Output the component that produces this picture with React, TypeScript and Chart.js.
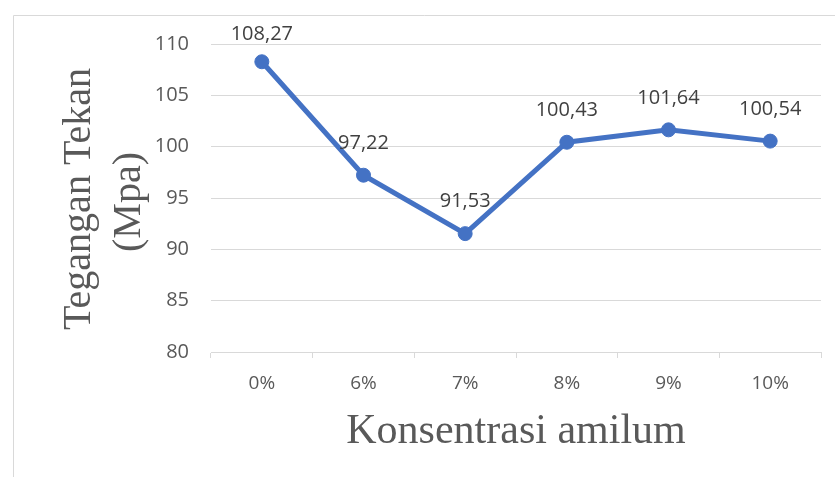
import React, { useEffect, useRef } from "react";
import { Chart, registerables } from "chart.js";

Chart.register(...registerables);

const categories = ["0%", "6%", "7%", "8%", "9%", "10%"];
const values = [108.27, 97.22, 91.53, 100.43, 101.64, 100.54];
const valueLabels = ["108,27", "97,22", "91,53", "100,43", "101,64", "100,54"];
const yMin = 80;
const yMax = 110;
const yStep = 5;
const xTitle = "Konsentrasi amilum";
const yTitleLines = ["Tegangan Tekan", "(Mpa)"];

const LINE_COLOR = "#4472C4";
const GRID = "#d9d9d9";
const TEXT = "#595959";
const SANS = "'Open Sans', 'Noto Sans', sans-serif";
const SERIF = "'Liberation Serif', 'DejaVu Serif', serif";

const decorPlugin = {
  id: "decor",
  beforeDraw(chart: any) {
    const ctx = chart.ctx;
    ctx.save();
    ctx.strokeStyle = GRID;
    ctx.lineWidth = 1;
    ctx.beginPath();
    ctx.moveTo(13.5, 500);
    ctx.lineTo(13.5, 15.5);
    ctx.lineTo(900, 15.5);
    ctx.stroke();
    ctx.restore();
  },
  afterDatasetsDraw(chart: any) {
    const ctx = chart.ctx;
    const area = chart.chartArea;
    const meta = chart.getDatasetMeta(0);
    ctx.save();
    // data labels
    ctx.fillStyle = "#404040";
    ctx.font = `20px ${SANS}`;
    ctx.textAlign = "center";
    ctx.textBaseline = "middle";
    meta.data.forEach((pt: any, i: number) => {
      ctx.fillText(valueLabels[i], pt.x, Math.max(pt.y - 32, 34));
    });
    // x title
    ctx.fillStyle = TEXT;
    ctx.font = `42px ${SERIF}`;
    ctx.fillText(xTitle, (area.left + area.right) / 2, 432);
    // y title
    const cy = (area.top + area.bottom) / 2 + 1;
    ctx.translate(0, cy);
    ctx.rotate(-Math.PI / 2);
    ctx.font = `40px ${SERIF}`;
    ctx.textBaseline = "alphabetic";
    ctx.fillText(yTitleLines[0], 0, 90);
    ctx.fillText(yTitleLines[1], -3, 140);
    ctx.restore();
  },
};

export default function App() {
  const ref = useRef<HTMLCanvasElement | null>(null);
  useEffect(() => {
    document.body.style.margin = "0";
    if (!ref.current) return;
    const chart = new Chart(ref.current, {
      type: "line",
      data: {
        labels: categories,
        datasets: [
          {
            data: values,
            borderColor: LINE_COLOR,
            backgroundColor: LINE_COLOR,
            borderWidth: 5,
            pointRadius: 7,
            pointBorderWidth: 1,
            pointBackgroundColor: LINE_COLOR,
            pointBorderColor: LINE_COLOR,
            tension: 0,
          },
        ],
      },
      options: {
        animation: false,
        responsive: false,
        devicePixelRatio: 1,
        layout: { padding: { left: 0, right: 14, top: 44, bottom: 0 } },
        plugins: { legend: { display: false }, tooltip: { enabled: false } },
        scales: {
          x: {
            offset: true,
            grid: {
              offset: true,
              drawOnChartArea: false,
              drawTicks: true,
              tickLength: 6,
              color: GRID,
            },
            border: { display: true, color: GRID, width: 1 },
            ticks: { color: TEXT, font: { family: SANS, size: 19 }, padding: 14 },
            afterFit(scale: any) {
              scale.height = 125;
            },
          },
          y: {
            min: yMin,
            max: yMax,
            ticks: {
              stepSize: yStep,
              color: TEXT,
              font: { family: SANS, size: 20 },
              padding: 22,
            },
            grid: { color: GRID, drawTicks: false, lineWidth: 1 },
            border: { display: false },
            afterFit(scale: any) {
              scale.width = 211;
            },
          },
        },
      },
      plugins: [decorPlugin],
    });
    return () => chart.destroy();
  }, []);
  return <canvas ref={ref} width={835} height={477} style={{ display: "block" }} />;
}
